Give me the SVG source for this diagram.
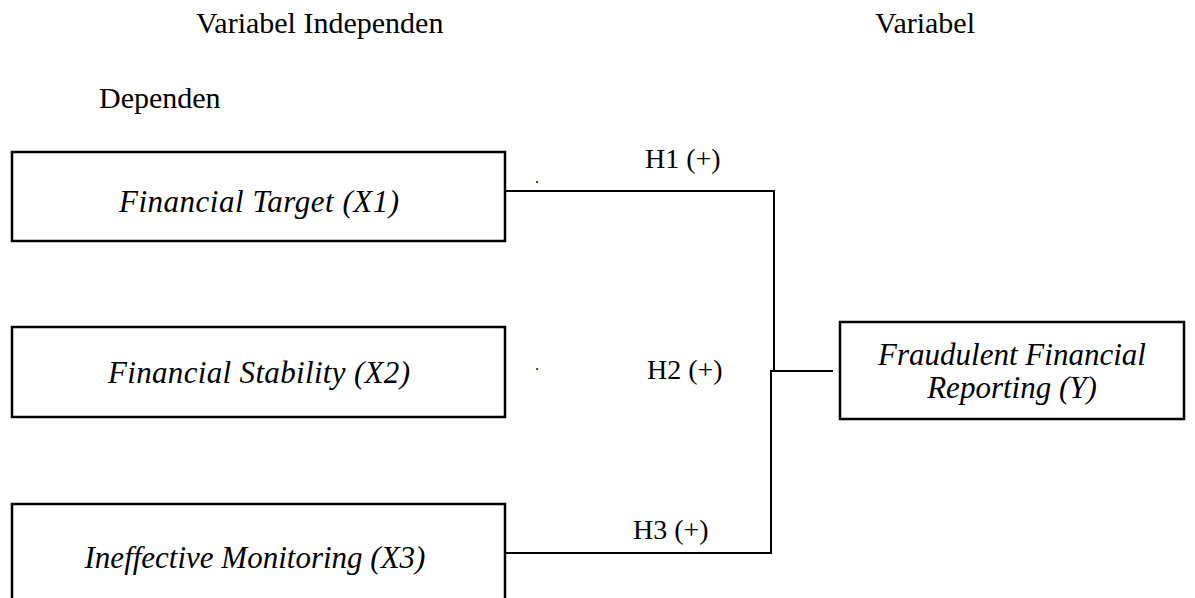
<svg xmlns="http://www.w3.org/2000/svg" width="1195" height="598" viewBox="0 0 1195 598">
<style>
text { font-family: "Liberation Serif", "Times New Roman", serif; fill: #000; }
.hdr { font-size: 30px; }
.lbl { font-size: 28px; }
.dot { font-size: 16px; }
.node { font-size: 31px; font-style: italic; }
.box { fill: #fff; stroke: #000; stroke-width: 2.5; }
.con { fill: none; stroke: #000; stroke-width: 2; }
</style>
<rect width="1195" height="598" fill="#fff"/>
<g id="headers">
<text class="hdr" x="196" y="33">Variabel Independen</text>
<text class="hdr" x="975" y="33" text-anchor="end">Variabel</text>
<text class="hdr" x="99" y="108">Dependen</text>
</g>
<g id="connectors">
<polyline class="con" points="505,191 774,191 774,371"/>
<line class="con" x1="770" y1="371" x2="833" y2="371"/>
<polyline class="con" points="505,553 771,553 771,371"/>
<text class="lbl" x="645" y="168">H1 (+)</text>
<text class="lbl" x="647" y="379">H2 (+)</text>
<text class="lbl" x="633" y="539">H3 (+)</text>
<text class="dot" x="535" y="183">.</text>
<text class="dot" x="535" y="370">.</text>
</g>
<g id="x1">
<rect class="box" x="12" y="152" width="493" height="89"/>
<text class="node" x="259" y="212" text-anchor="middle" textLength="280">Financial Target (X1)</text>
</g>
<g id="x2">
<rect class="box" x="12" y="327" width="493" height="90"/>
<text class="node" x="259" y="383" text-anchor="middle" textLength="302">Financial Stability (X2)</text>
</g>
<g id="x3">
<rect class="box" x="12" y="504" width="493" height="110"/>
<text class="node" x="255" y="568" text-anchor="middle">Ineffective Monitoring (X3)</text>
</g>
<g id="y">
<rect class="box" x="840" y="322" width="344" height="97"/>
<text class="node" x="1012" y="365" text-anchor="middle">Fraudulent Financial</text>
<text class="node" x="1012" y="398" text-anchor="middle">Reporting (Y)</text>
</g>
</svg>
